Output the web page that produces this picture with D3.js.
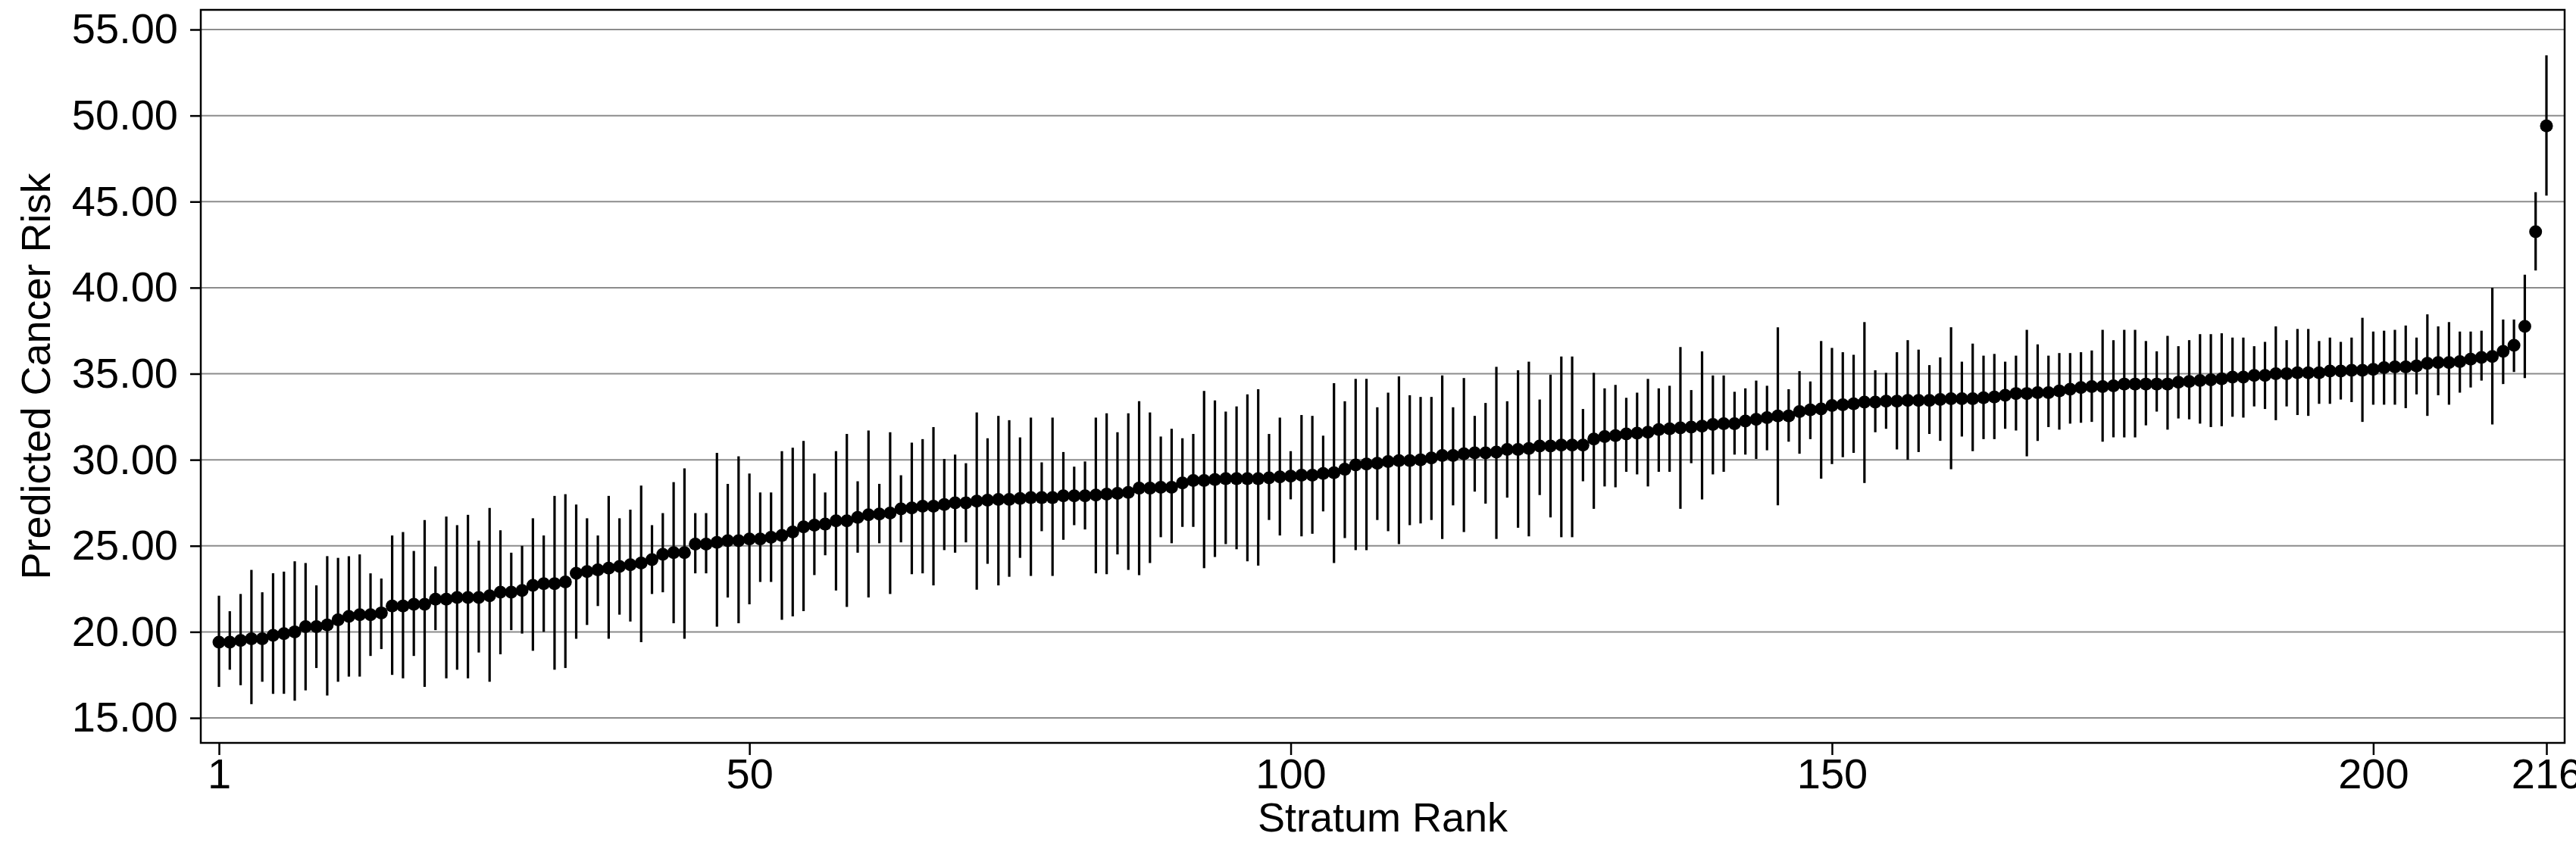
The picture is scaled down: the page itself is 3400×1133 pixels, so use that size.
<!DOCTYPE html>
<html>
<head>
<meta charset="utf-8">
<script src="https://cdn.jsdelivr.net/npm/d3@7"></script>
<style>
  body { margin: 0; background: #fff; }
  text { font-family: "Liberation Sans", Arial, sans-serif; }
</style>
</head>
<body>
<script>
// Predicted risk per stratum (rank 1..216), with lower and upper CI bounds
const mean = [
  19.4,19.4,19.5,19.6,19.6,19.8,19.9,20.0,20.3,20.3,20.4,20.7,20.9,21.0,21.0,21.1,21.5,21.5,21.6,21.6,
  21.9,21.9,22.0,22.0,22.0,22.1,22.3,22.3,22.4,22.7,22.8,22.8,22.9,23.4,23.5,23.6,23.7,23.8,23.9,24.0,
  24.2,24.5,24.6,24.6,25.1,25.1,25.2,25.3,25.3,25.4,25.4,25.5,25.6,25.8,26.1,26.2,26.26,26.45,26.45,26.65,
  26.8,26.85,26.9,27.15,27.2,27.3,27.3,27.4,27.5,27.5,27.6,27.65,27.7,27.7,27.75,27.8,27.8,27.8,27.9,27.9,
  27.9,27.95,28.0,28.05,28.1,28.35,28.35,28.4,28.4,28.65,28.8,28.8,28.85,28.9,28.9,28.9,28.9,28.95,29.0,29.05,
  29.1,29.1,29.2,29.25,29.45,29.7,29.75,29.8,29.9,29.95,29.95,30.0,30.1,30.25,30.25,30.35,30.4,30.4,30.45,30.6,
  30.6,30.65,30.8,30.8,30.85,30.85,30.85,31.2,31.35,31.4,31.5,31.55,31.6,31.75,31.8,31.85,31.9,31.95,32.05,32.1,
  32.1,32.25,32.35,32.45,32.55,32.55,32.8,32.9,32.95,33.15,33.2,33.25,33.35,33.35,33.4,33.4,33.45,33.45,33.45,33.5,
  33.55,33.55,33.55,33.6,33.65,33.75,33.85,33.85,33.9,33.9,34.0,34.1,34.2,34.25,34.25,34.3,34.4,34.4,34.4,34.4,
  34.4,34.5,34.55,34.6,34.65,34.7,34.8,34.8,34.9,34.9,35.0,35.0,35.05,35.05,35.05,35.15,35.15,35.2,35.2,35.25,
  35.35,35.4,35.4,35.45,35.6,35.65,35.65,35.7,35.85,35.95,36.0,36.3,36.65,37.75,43.25,49.4
];
const lower = [
  16.8,17.8,16.9,15.8,17.1,16.4,16.4,16.0,16.6,17.9,16.3,17.1,17.4,17.4,18.6,19.0,17.5,17.3,18.6,16.8,
  20.1,17.3,17.8,17.3,18.8,17.1,18.7,20.1,19.9,18.9,20.0,17.8,17.9,19.6,20.4,21.5,19.6,21.0,20.6,19.4,
  22.2,22.3,20.5,19.6,23.4,23.4,20.3,22.0,20.5,21.6,22.9,22.9,20.7,20.9,21.2,23.3,24.45,22.4,21.45,24.6,
  22.0,25.15,22.2,25.2,23.35,23.4,22.7,24.75,24.6,25.2,22.45,23.95,22.7,23.2,24.3,23.25,25.85,23.25,25.35,26.2,
  25.95,23.4,23.35,24.5,23.6,23.3,24.0,25.5,25.15,26.1,26.1,23.7,24.35,25.1,24.8,24.1,23.85,26.5,25.6,27.7,
  25.55,25.7,27.0,24.0,25.45,24.75,24.75,26.5,25.85,25.1,26.2,26.3,26.5,25.4,27.35,25.8,28.15,27.45,25.4,27.8,
  26.05,25.55,27.95,26.65,25.5,25.5,28.75,27.15,28.45,28.4,29.3,29.15,28.45,29.3,29.3,27.15,29.8,27.7,29.15,29.3,
  30.3,30.3,30.05,30.55,27.35,31.05,30.35,31.2,28.9,29.75,30.15,30.4,28.65,31.6,31.8,30.6,30.0,30.45,31.5,31.1,
  29.45,31.35,30.5,31.2,31.2,31.8,31.7,30.2,31.1,31.9,31.75,32.1,32.15,32.2,31.05,31.3,31.3,31.3,32.0,32.8,
  31.75,32.4,32.35,32.1,31.9,31.95,32.5,32.45,33.1,32.95,32.3,33.1,32.6,32.55,33.25,33.25,33.5,33.35,32.2,33.2,
  33.2,33.2,33.0,33.8,32.55,33.75,33.2,33.9,34.2,34.6,32.05,34.4,35.1,34.75,41.0,45.35
];
const upper = [
  22.1,21.2,22.2,23.6,22.3,23.4,23.5,24.1,24.0,22.7,24.4,24.3,24.4,24.5,23.4,23.1,25.6,25.8,24.7,26.5,
  23.8,26.7,26.2,26.8,25.3,27.2,25.9,24.6,25.0,26.6,25.6,27.9,28.0,27.4,26.6,25.6,27.9,26.6,27.1,28.5,
  26.2,26.9,28.7,29.5,26.9,26.9,30.4,28.6,30.2,29.2,28.1,28.1,30.5,30.7,31.1,29.2,28.1,30.5,31.5,28.75,
  31.7,28.6,31.6,29.1,31.0,31.2,31.9,30.05,30.3,29.8,32.75,31.25,32.55,32.3,31.3,32.45,29.85,32.45,30.45,29.6,
  29.9,32.45,32.7,31.6,32.7,33.4,32.75,31.35,31.8,31.25,31.5,34.0,33.45,32.8,33.1,33.8,34.1,31.5,32.45,30.5,
  32.6,32.55,31.4,34.45,33.4,34.7,34.7,33.05,33.9,34.85,33.75,33.65,33.65,34.9,33.05,34.75,32.55,33.3,35.4,33.4,
  35.2,35.7,33.5,34.95,36.0,36.0,32.95,35.05,34.15,34.35,33.6,33.9,34.7,34.15,34.3,36.55,34.05,36.3,34.9,34.9,
  33.95,34.15,34.6,34.3,37.7,34.1,35.15,34.55,36.9,36.5,36.25,36.1,38.0,35.2,35.05,36.25,36.95,36.4,35.5,35.95,
  37.7,35.7,36.75,36.05,36.15,35.7,36.05,37.55,36.7,36.05,36.2,36.2,36.25,36.35,37.55,36.95,37.55,37.55,36.9,36.3,
  37.2,36.6,36.95,37.3,37.3,37.35,37.1,37.1,36.6,36.85,37.75,36.95,37.6,37.6,36.9,37.1,36.85,37.1,38.25,37.45,
  37.5,37.55,37.8,37.1,38.45,37.75,38.0,37.45,37.45,37.5,40.0,38.15,38.15,40.75,45.55,53.5
];
const yTicks = [15, 20, 25, 30, 35, 40, 45, 50, 55];
const xTicks = [1, 50, 100, 150, 200, 216];

const W = 3400, H = 1133;
const frame = { left: 265, right: 3385, top: 13, bottom: 981 };

const svg = d3.select("body").append("svg").attr("width", W).attr("height", H);

const x = d3.scaleLinear().domain([1, 216]).range([289, 3361]);
const y = d3.scaleLinear().domain([15, 55]).range([948, 39]);

// gridlines
svg.append("g").selectAll("line").data(yTicks).join("line")
  .attr("x1", frame.left).attr("x2", frame.right)
  .attr("y1", d => y(d)).attr("y2", d => y(d))
  .attr("stroke", "#8c8c8c").attr("stroke-width", 2);

// axes
const yAxis = svg.append("g").attr("transform", `translate(${frame.left},0)`)
  .call(d3.axisLeft(y).tickValues(yTicks).tickFormat(d3.format(".2f")).tickSize(14).tickPadding(16));
const xAxis = svg.append("g").attr("transform", `translate(0,${frame.bottom})`)
  .call(d3.axisBottom(x).tickValues(xTicks).tickSize(16).tickPadding(4));
[yAxis, xAxis].forEach(a => {
  a.select(".domain").remove();
  a.selectAll("line").attr("stroke", "#000").attr("stroke-width", 2.5);
  a.selectAll("text").attr("font-size", 56).attr("fill", "#000")
    .style("font-family", "'Liberation Sans', Arial, sans-serif");
});

// frame
svg.append("rect").attr("x", frame.left).attr("y", frame.top)
  .attr("width", frame.right - frame.left).attr("height", frame.bottom - frame.top)
  .attr("fill", "none").attr("stroke", "#000").attr("stroke-width", 2.5);

const idx = d3.range(mean.length);

// CI bars
svg.append("g").selectAll("line").data(idx).join("line")
  .attr("x1", i => x(i + 1)).attr("x2", i => x(i + 1))
  .attr("y1", i => y(lower[i])).attr("y2", i => y(upper[i]))
  .attr("stroke", "#000").attr("stroke-width", 3.2);

// points
svg.append("g").selectAll("circle").data(idx).join("circle")
  .attr("cx", i => x(i + 1)).attr("cy", i => y(mean[i]))
  .attr("r", 8.5).attr("fill", "#000");

// axis titles
svg.append("text").attr("x", (frame.left + frame.right) / 2).attr("y", 1098)
  .attr("text-anchor", "middle").attr("font-size", 54).text("Stratum Rank");
svg.append("text").attr("transform", `translate(66,${(frame.top + frame.bottom) / 2}) rotate(-90)`)
  .attr("text-anchor", "middle").attr("font-size", 54).text("Predicted Cancer Risk");
</script>
</body>
</html>
